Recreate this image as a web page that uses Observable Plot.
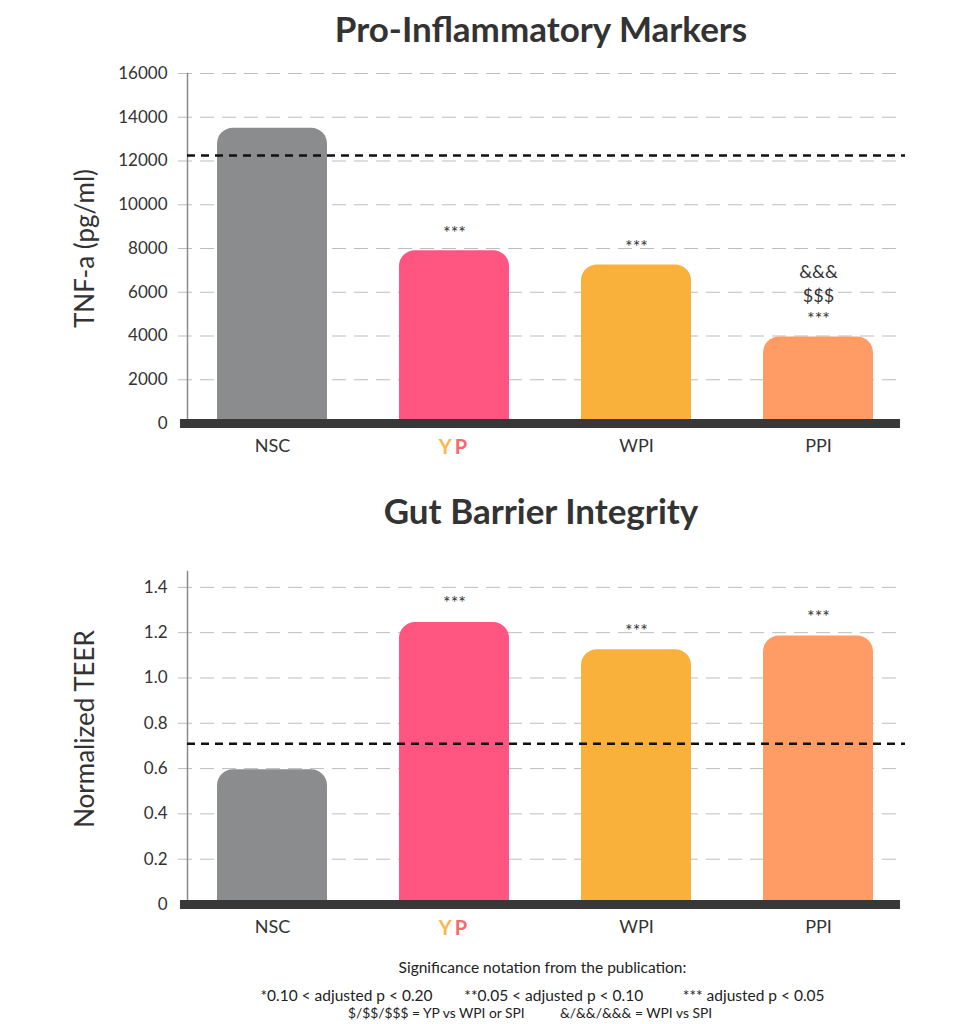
<!DOCTYPE html>
<html>
<head>
<meta charset="utf-8">
<script src="https://cdn.jsdelivr.net/npm/d3@7"></script>
<script src="https://cdn.jsdelivr.net/npm/@observablehq/plot@0.6"></script>
<style>
  html, body { margin: 0; padding: 0; background: #fff; }
  body { width: 973px; height: 1024px; position: relative; font-family: Lato, "Open Sans", sans-serif; color: #333; }
  .title { position: absolute; left: 0; width: 1082px; text-align: center; font-weight: 700; font-size: 35px; color: #333; }
  .chart { position: absolute; left: 0; }
  .note { position: absolute; left: 0; width: 1085px; text-align: center; font-size: 15.5px; color: #222; white-space: pre; }
</style>
</head>
<body>
<div class="title" id="t1" style="top:7px;">Pro-Inflammatory Markers</div>
<div class="chart" id="c1" style="top:50px;"></div>
<div class="title" id="t2" style="top:489px;">Gut Barrier Integrity</div>
<div class="chart" id="c2" style="top:555px;"></div>
<div class="note" style="top:958px;">Significance notation from the publication:</div>
<div class="note" style="top:986px;">*0.10 &lt; adjusted p &lt; 0.20        **0.05 &lt; adjusted p &lt; 0.10          *** adjusted p &lt; 0.05</div>
<div class="note" style="top:1004px; font-size:13.8px; width:1060px;">$/$$/$$$ = YP vs WPI or SPI          &amp;/&amp;&amp;/&amp;&amp;&amp; = WPI vs SPI</div>
<script>
// ---- data ----
const groups = ["NSC", "YP", "WPI", "PPI"];
const colors = ["#8b8c8e", "#ff5580", "#f9b13c", "#ff9c66"];
const tnfValues = [13500, 7900, 7250, 3950];
const tnfBaseline = 12250;
const tnfSig = ["", "***", "***", "&&&\n$$$\n***"];
const tnfTicks = [0, 2000, 4000, 6000, 8000, 10000, 12000, 14000, 16000];
const teerValues = [0.595, 1.245, 1.125, 1.185];
const teerBaseline = 0.71;
const teerSig = ["", "***", "***", "***"];
const teerTicks = [0, 0.2, 0.4, 0.6, 0.8, 1.0, 1.2, 1.4];

const FONT = "Lato, 'Open Sans', sans-serif";

function makeChart({values, sig, baseline, ticks, yDomain, yLabel, height, marginTop, marginBottom, tickFmt, sigDy, labelDy}) {
  const data = groups.map((g, i) => ({group: g, value: values[i], color: colors[i], sig: sig[i]}));
  const chart = Plot.plot({
    width: 973,
    height,
    marginLeft: 181,
    marginRight: 64,
    marginTop,
    marginBottom,
    style: {fontFamily: FONT, fontSize: "17px", color: "#333", background: "transparent"},
    x: {domain: groups, paddingInner: 0.397, paddingOuter: 0.195, label: null},
    y: {domain: yDomain, label: null},
    color: {type: "identity"},
    marks: [
      Plot.gridY(ticks.filter(t => t > 0), {stroke: "#bdbdbd", strokeOpacity: 1, strokeWidth: 1, strokeDasharray: "14,8", insetLeft: -3, insetRight: 9}),
      Plot.frame({anchor: "left", stroke: "#8a8a8a", strokeWidth: 1.5, dx: 6}),
      Plot.barY(data, {x: "group", y: "value", fill: "color", ry1: 16}),
      Plot.ruleY([baseline], {stroke: "#111", strokeWidth: 2.5, strokeDasharray: "8,6", insetLeft: 6, insetRight: 4}),
      Plot.ruleY([0], {stroke: "#383838", strokeWidth: 9, insetLeft: -1, insetRight: 9}),
      Plot.text(data, {x: "group", y: "value", text: "sig", lineAnchor: "bottom", dy: sigDy, fontSize: 18, lineHeight: 1.3, fill: "#333"}),
      Plot.axisY({ticks, tickSize: 0, tickPadding: 14, tickFormat: tickFmt, fontSize: 17, fill: "#333", label: null}),
      Plot.axisX({tickSize: 0, tickPadding: 16, fontSize: 18, fill: "#333", label: null}),
      Plot.text([yLabel], {frameAnchor: "left", text: d => d, rotate: -90, textAnchor: "middle", dx: -96, dy: labelDy, fontSize: 26, fill: "#333"})
    ]
  });
  // colour the YP tick label in two tones
  d3.select(chart).selectAll('g[aria-label="x-axis tick label"] text').each(function() {
    const t = d3.select(this);
    if (t.text() === "YP") {
      t.text("");
      t.attr("font-weight", 700).attr("font-size", 20).attr("letter-spacing", "3px");
      t.append("tspan").attr("fill", "#fdb64a").text("Y");
      t.append("tspan").attr("fill", "#f9686c").text("P");
    }
  });
  return chart;
}

document.getElementById("c1").appendChild(makeChart({
  values: tnfValues, sig: tnfSig, baseline: tnfBaseline, ticks: tnfTicks,
  yDomain: [0, 16000], yLabel: "TNF-a (pg/ml)", height: 420, marginTop: 23, marginBottom: 47,
  tickFmt: d => String(d), sigDy: -12, labelDy: 0
}));
document.getElementById("c2").appendChild(makeChart({
  values: teerValues, sig: teerSig, baseline: teerBaseline, ticks: teerTicks,
  yDomain: [0, 1.47], yLabel: "Normalized TEER", height: 400, marginTop: 16, marginBottom: 51,
  tickFmt: d => d === 0 ? "0" : d3.format(".1f")(d), sigDy: -13, labelDy: -9
}));
</script>
</body>
</html>
